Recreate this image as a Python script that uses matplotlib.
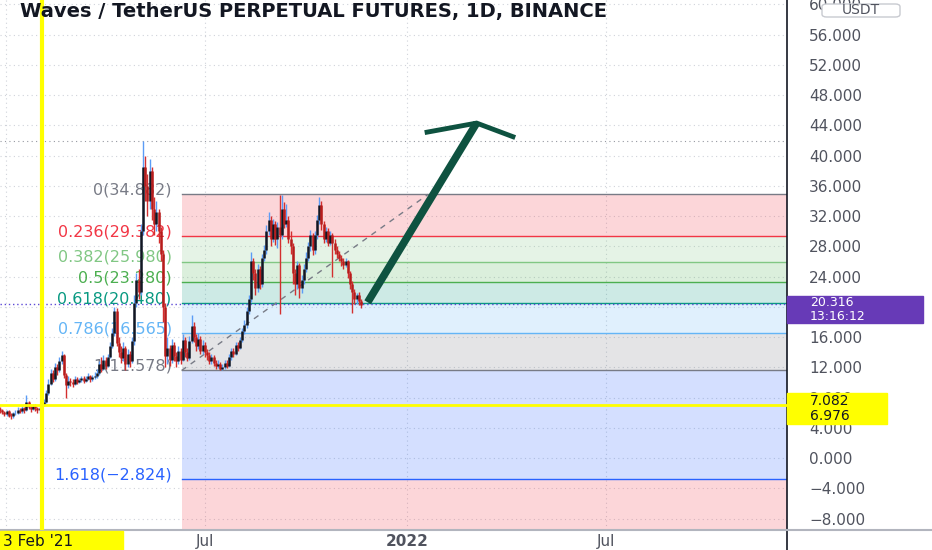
import matplotlib
matplotlib.use("Agg")
import matplotlib.pyplot as plt
import matplotlib.dates as mdates
from matplotlib.patches import Rectangle, FancyBboxPatch
from matplotlib.lines import Line2D
import pandas as pd

# daily-ish candles (2 day steps)
start = "2020-12-27"
closes = [6.3, 6.1, 5.8, 6.2, 5.6, 5.5, 5.9, 6.0, 6.4, 6.2,
          6.6, 6.3, 7.4, 6.8, 6.5, 6.9, 6.6, 6.3, 6.6, 7.0,
          7.4, 8.6, 9.8, 11.2, 10.4, 12.0, 11.6, 12.8, 13.6, 11.0,
          9.6, 10.2, 10.0, 9.8, 10.4, 10.1, 10.3, 10.6, 10.2, 10.5,
          10.8, 10.4, 10.7, 10.9, 11.2, 12.4, 11.8, 13.0, 12.2, 13.4,
          14.8, 16.5, 19.5, 15.2, 14.0, 13.2, 14.6, 12.4, 13.8, 12.8,
          15.5, 20.5, 23.5, 22.0, 30.0, 38.5, 36.0, 34.0, 38.0, 33.0,
          31.0, 32.5, 30.0, 27.0, 20.0, 13.5, 14.5, 13.0, 15.0, 13.5,
          12.8, 14.2, 13.0, 15.6, 14.0, 13.2, 15.5, 17.5, 16.0, 14.8,
          15.8, 14.2, 15.0, 14.0, 13.6, 12.8, 13.4, 12.6, 12.2, 12.5,
          11.8, 12.0, 12.6, 12.2, 13.4, 14.2, 13.8, 15.0, 14.6, 15.6,
          16.8, 17.6, 19.5, 21.0, 26.0, 24.5, 22.5, 25.0, 23.0, 26.5,
          27.5, 30.0, 31.5, 29.0, 31.0, 29.0, 30.5, 29.5, 33.0, 31.0,
          31.5, 29.0, 28.0, 24.5, 23.0, 25.5, 22.5, 23.5, 25.0, 26.5,
          28.0, 29.5, 27.5, 29.5, 31.5, 33.5, 31.0, 29.0, 30.0, 28.5,
          29.5, 28.5, 27.5, 27.0, 26.5, 26.0, 25.5, 26.0, 24.5, 23.0,
          22.0, 21.0, 21.5, 20.8, 20.3]
highs = [6.8, 6.5, 6.2, 6.4, 6.3, 5.9, 6.1, 6.3, 6.7, 6.6,
         6.9, 6.8, 8.3, 7.6, 7.0, 7.2, 7.1, 6.8, 6.9, 7.3,
         7.8, 9.0, 10.4, 11.8, 11.6, 12.6, 12.4, 13.4, 14.2, 13.8,
         11.2, 10.8, 10.6, 10.4, 10.8, 10.7, 10.6, 10.9, 10.8, 10.9,
         11.2, 11.0, 11.0, 11.4, 11.8, 12.8, 13.4, 13.6, 13.4, 13.8,
         15.4, 17.2, 20.0, 19.8, 16.0, 14.8, 15.4, 14.8, 14.4, 14.2,
         16.0, 21.5, 24.5, 25.0, 31.0, 41.9, 40.0, 37.5, 39.5, 38.5,
         34.5, 34.0, 33.0, 30.5, 27.5, 20.5, 16.0, 15.0, 15.8, 15.4,
         14.0, 14.8, 14.6, 16.4, 16.0, 14.6, 16.2, 18.9, 18.0, 16.4,
         16.6, 16.2, 15.6, 15.4, 14.4, 14.0, 13.8, 13.6, 12.9, 12.9,
         12.7, 12.4, 13.0, 13.0, 13.8, 14.6, 14.6, 15.4, 15.4, 16.0,
         17.2, 18.2, 20.0, 21.6, 27.2, 26.5, 25.0, 25.6, 25.4, 27.0,
         28.2, 30.8, 32.5, 32.0, 31.6, 31.4, 31.2, 34.8, 34.8, 33.8,
         33.6, 32.0, 30.0, 28.5, 25.0, 26.0, 25.8, 24.2, 25.6, 27.2,
         28.6, 30.2, 29.8, 30.0, 32.2, 34.5, 34.0, 31.4, 30.6, 30.4,
         30.0, 29.8, 29.0, 28.0, 27.4, 26.8, 26.4, 26.4, 26.2, 24.8,
         23.4, 22.4, 21.8, 21.9, 21.0]
lows = [6.0, 5.8, 5.5, 5.6, 5.4, 5.2, 5.3, 5.7, 5.8, 5.9,
        6.0, 6.0, 6.2, 6.5, 6.1, 6.3, 6.2, 5.9, 6.0, 6.4,
        6.9, 7.3, 8.4, 9.6, 10.0, 10.2, 11.0, 11.4, 12.4, 10.6,
        7.9, 9.2, 9.5, 9.4, 9.6, 9.8, 9.9, 10.0, 9.9, 10.0,
        10.3, 10.0, 10.2, 10.5, 10.6, 11.0, 11.4, 11.6, 11.8, 12.0,
        13.2, 14.6, 16.2, 14.8, 13.4, 12.6, 12.8, 11.6, 12.0, 12.0,
        12.6, 15.0, 20.0, 21.0, 21.5, 29.5, 34.0, 32.0, 33.0, 31.5,
        29.5, 30.0, 28.5, 26.0, 18.0, 12.0, 12.5, 12.2, 12.6, 12.8,
        12.0, 12.4, 12.4, 12.8, 13.4, 12.8, 13.0, 15.2, 15.4, 14.2,
        14.4, 13.8, 13.8, 13.4, 13.0, 12.4, 12.4, 12.2, 11.8, 11.9,
        11.578, 11.6, 11.8, 11.9, 12.0, 13.0, 13.4, 13.6, 14.2, 14.4,
        15.4, 16.4, 17.2, 19.0, 20.6, 23.5, 21.5, 22.0, 22.4, 22.6,
        26.0, 27.0, 29.5, 28.0, 28.6, 28.2, 27.8, 19.0, 29.0, 30.4,
        30.5, 28.4, 27.0, 23.0, 21.5, 22.4, 21.2, 21.8, 23.0, 24.6,
        26.0, 27.4, 26.8, 27.0, 29.0, 31.0, 30.2, 28.4, 28.6, 28.0,
        28.2, 24.0, 27.0, 26.4, 26.0, 25.4, 25.0, 25.2, 23.8, 22.4,
        19.2, 20.4, 20.4, 20.2, 19.8]
first_open = 6.5

# fib retracement
fib_ratios = [0, 0.236, 0.382, 0.5, 0.618, 0.786, 1, 1.618, 2.618]
fib_prices = [34.882, 29.382, 25.980, 23.280, 20.480, 16.565, 11.578, -2.824, -26.1]
fib_colors = ['#787b86', '#f23645', '#81c784', '#4caf50', '#089981',
              '#64b5f6', '#787b86', '#2962ff', '#f23645']
fib_start = "2021-06-10"
fib_label_x = "2021-06-01"
trend_p1 = ("2021-06-10", 11.578)
trend_p2 = ("2022-01-20", 34.882)

# hand drawn arrow
arrow_shaft = [("2021-11-26", 20.6), ("2022-03-05", 44.3)]
arrow_head = [("2022-01-19", 43.1), ("2022-03-05", 44.3), ("2022-04-07", 42.5)]

marker_date = "2021-02-03"
marker_price = 7.03
last_price = 20.316
high_line = 41.9

W, H = 932, 550
fig = plt.figure(figsize=(W / 100, H / 100), dpi=100)
ax = fig.add_axes([0, 20 / H, 787 / W, 530 / H])

d = mdates.date2num
dates = pd.date_range(start, periods=len(closes), freq="2D")
xs = d(dates)
opens = [first_open] + closes[:-1]

x0 = d(pd.Timestamp(start))
x1 = d(pd.Timestamp("2022-12-12"))
ax.set_xlim(x0, x1)
ax.set_ylim(-9.52, 60.58)

# grid
for v in range(-8, 61, 4):
    ax.axhline(v, color='#d0d3da', lw=0.8, ls=(0, (1, 3)), zorder=0)
for g in ["2021-01-01", "2021-07-01", "2022-01-01", "2022-07-01"]:
    ax.axvline(d(pd.Timestamp(g)), color='#d0d3da', lw=0.8, ls=(0, (1, 3)), zorder=0)
ax.axhline(high_line, color='#9598a1', lw=0.8, ls=(0, (1, 3)), zorder=0)

# fib zones
fs = d(pd.Timestamp(fib_start))
for i in range(len(fib_prices) - 1):
    ax.fill_between([fs, x1], fib_prices[i + 1], fib_prices[i],
                    color=fib_colors[i + 1], alpha=0.2, lw=0, zorder=1)
for r, p, c in zip(fib_ratios, fib_prices, fib_colors):
    ax.plot([fs, x1], [p, p], color=c, lw=1, zorder=2)
    if r <= 1.618:
        lab = f"{r}({p:.3f})".replace('-', '\u2212')
        ax.annotate(lab, (d(pd.Timestamp(fib_label_x)), p), xytext=(0, 3),
                    textcoords='offset points', ha='right', va='center',
                    color=c, fontsize=11.5, zorder=3)

ax.plot([d(pd.Timestamp(trend_p1[0])), d(pd.Timestamp(trend_p2[0]))],
        [trend_p1[1], trend_p2[1]], color='#787b86', lw=1, ls=(0, (4, 4)), zorder=3)

# candles
for x, o, h, l, c in zip(xs, opens, highs, lows, closes):
    if c >= o:
        ax.vlines(x, l, h, color='#5b9cf6', lw=1, zorder=4)
        ax.vlines(x, o, c, color='#131722', lw=1.8, zorder=5)
    else:
        ax.vlines(x, l, h, color='#d32f2f', lw=1, zorder=4)
        ax.vlines(x, c, o, color='#b71c1c', lw=1.8, zorder=5)

ax.axhline(last_price, color='#5c49d6', lw=1, ls=(0, (1, 2)), zorder=3)
ax.axvline(d(pd.Timestamp(marker_date)), color='#ffff00', lw=3, zorder=6)
ax.axhline(marker_price, color='#ffff00', lw=2, zorder=6)

# arrow
ax.plot([d(pd.Timestamp(t)) for t, _ in arrow_shaft], [v for _, v in arrow_shaft],
        color='#0e5240', lw=5.5, solid_capstyle='butt', zorder=7)
ax.plot([d(pd.Timestamp(t)) for t, _ in arrow_head], [v for _, v in arrow_head],
        color='#0e5240', lw=3.5, solid_joinstyle='miter', zorder=7)

# axes (20.000 sits under the last price tag, so it is left blank)
ax.yaxis.tick_right()
yt = list(range(-8, 61, 4))
ax.set_yticks(yt)
ax.set_yticklabels(['' if v == 20 else f"{v:.3f}".replace('-', '\u2212') for v in yt])
ax.tick_params(axis='y', length=0, pad=16, labelsize=11, labelcolor='#50535e')
xt = ["2021-07-01", "2022-01-01", "2022-07-01"]
ax.set_xticks([d(pd.Timestamp(t)) for t in xt])
ax.set_xticklabels(['Jul', '2022', 'Jul'])
ax.get_xticklabels()[1].set_fontweight('bold')
ax.tick_params(axis='x', length=0, pad=3, labelsize=11, labelcolor='#50535e')
for s in ['top', 'left']:
    ax.spines[s].set_visible(False)
ax.spines['right'].set_color('#131722')
ax.spines['right'].set_linewidth(1.2)
ax.spines['bottom'].set_color('#b2b5be')
ax.spines['bottom'].set_linewidth(1.5)

fig.add_artist(Line2D([787 / W, 787 / W], [0, 20 / H], color='#131722', lw=1.2))
fig.add_artist(Line2D([787 / W, 1], [20 / H, 20 / H], color='#b2b5be', lw=1.5))


def px(x, y):
    return x / W, 1 - y / H


# title
fig.text(*px(20, 11), "Waves / TetherUS PERPETUAL FUTURES, 1D, BINANCE",
         fontsize=14, fontweight='bold', color='#131722', va='center')

# right side price labels
fig.add_artist(Rectangle(px(787, 323), 136 / W, 27 / H, color='#673ab7',
                         transform=fig.transFigure))
fig.text(*px(810, 302), "20.316", color='white', fontsize=9, va='center')
fig.text(*px(810, 316), "13:16:12", color='white', fontsize=9, va='center')
fig.add_artist(Rectangle(px(787, 424), 100 / W, 31 / H, color='#ffff00',
                         transform=fig.transFigure))
fig.text(*px(810, 401), "7.082", color='#131722', fontsize=10, va='center')
fig.text(*px(810, 416), "6.976", color='#131722', fontsize=10, va='center')
fig.add_artist(FancyBboxPatch(px(822, 17), 78 / W, 13 / H,
                              boxstyle="round,pad=0,rounding_size=0.005",
                              fc='white', ec='#c8cad0', lw=1,
                              transform=fig.transFigure))
fig.text(*px(861, 10), "USDT", color='#50535e', fontsize=10, ha='center', va='center')

# bottom date marker
fig.add_artist(Rectangle(px(0, 550), 123 / W, 19 / H, color='#ffff00',
                         transform=fig.transFigure))
fig.text(*px(3, 541), "3 Feb '21", color='#131722', fontsize=11, va='center')

fig.savefig("out.png", dpi=100)
